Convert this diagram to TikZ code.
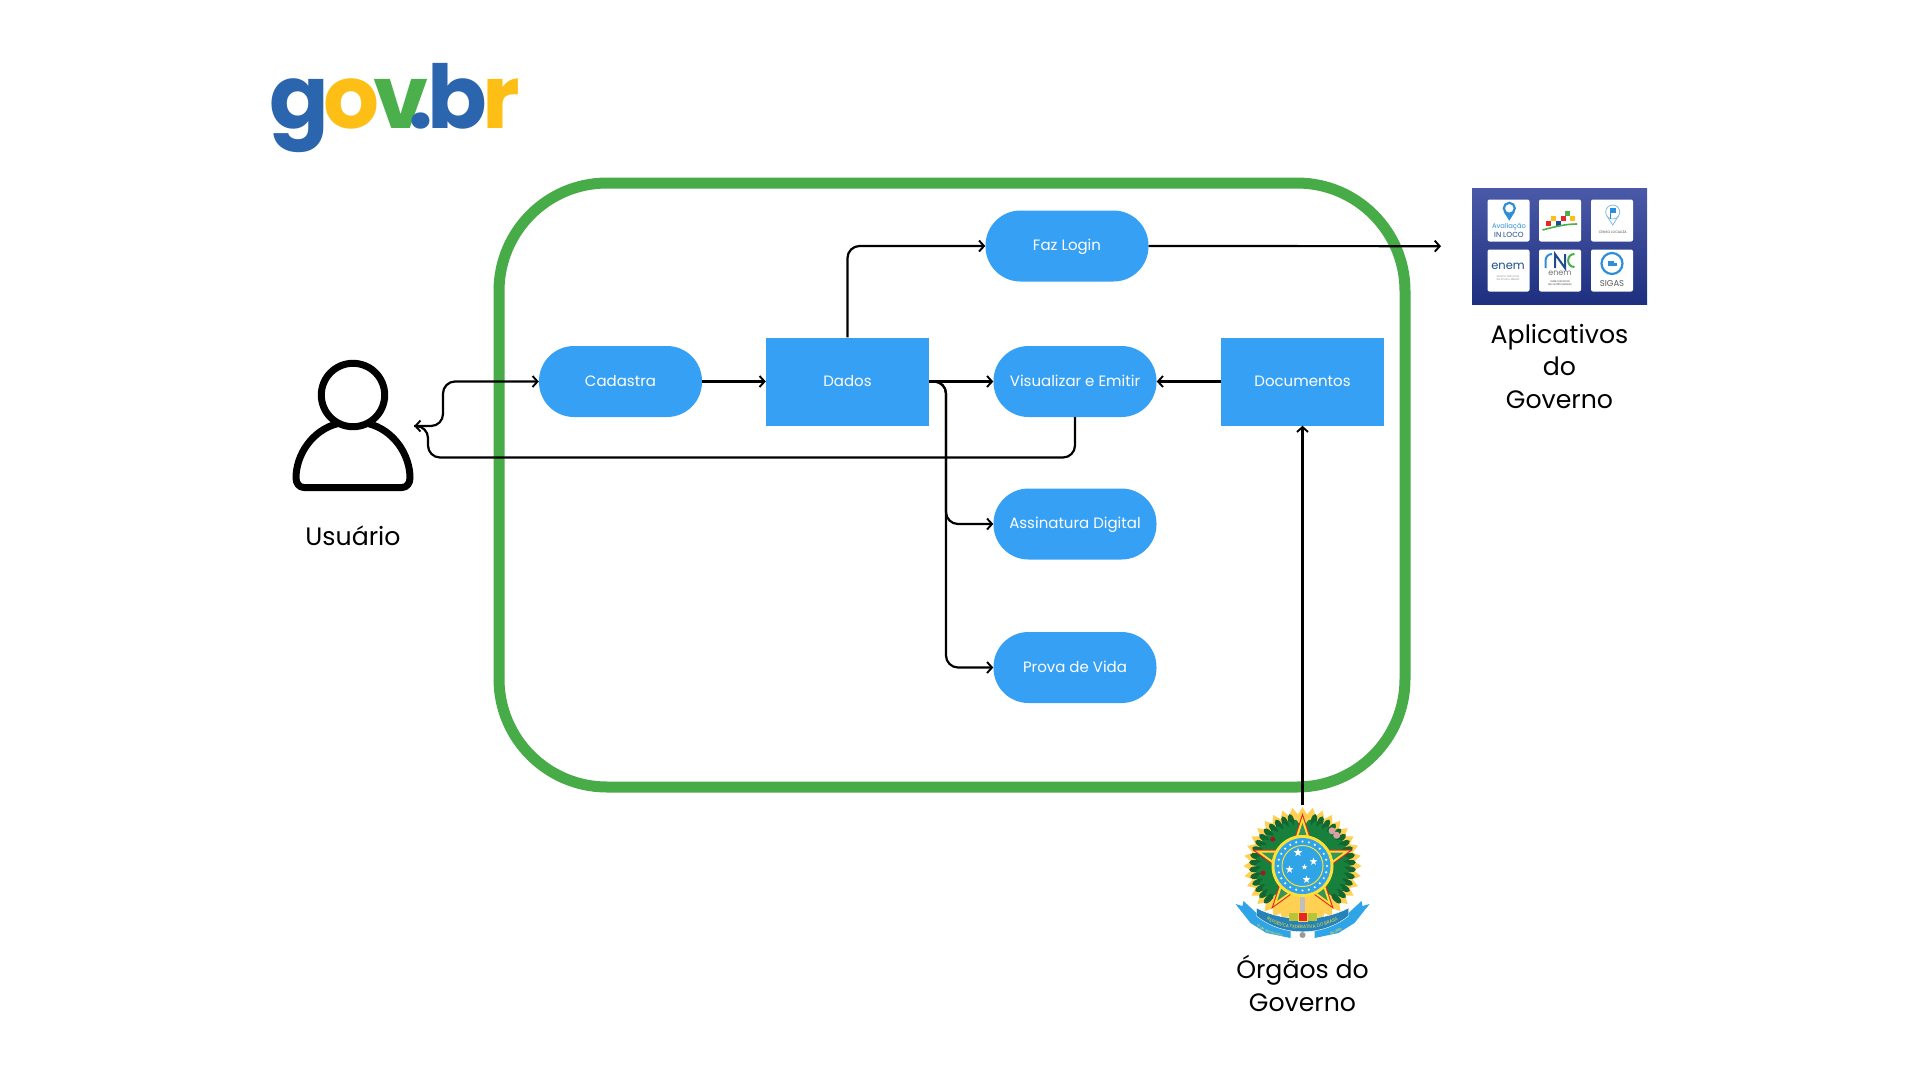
\documentclass[tikz,border=0pt]{standalone}
\usepackage{fontspec}
\setmainfont{Poppins}
\newfontfamily\logofont{Poppins}[UprightFont=* Bold]
\usepackage{tikz}
\usetikzlibrary{arrows.meta,shapes.geometric,decorations.text}

\definecolor{flowblue}{HTML}{35A0F4}
\definecolor{framegreen}{HTML}{47AB48}
\definecolor{logoblue}{HTML}{2A65AE}
\definecolor{logoyellow}{HTML}{FDBF16}
\definecolor{logogreen}{HTML}{4BAF4B}
\definecolor{appdark}{HTML}{1E2F7F}
\definecolor{applight}{HTML}{4A5AA8}
\definecolor{tileblue}{HTML}{2E8FD8}
\definecolor{tilenavy}{HTML}{1F4C8F}
\definecolor{leafgreen}{HTML}{17803C}
\definecolor{sealblue}{HTML}{2FA4E7}
\definecolor{sealyellow}{HTML}{FFE135}
\definecolor{sealred}{HTML}{E5262A}

\tikzset{
    pill/.style={rectangle, fill=flowblue, rounded corners=35pt, minimum width=163pt, minimum height=71pt, inner sep=0pt, text=white, text height=13pt, text depth=3.5pt, font=\fontsize{15}{18}\selectfont},
    box/.style={rectangle, fill=flowblue, minimum width=163pt, minimum height=88pt, inner sep=0pt, text=white, text height=13pt, text depth=3.5pt, font=\fontsize{15}{18}\selectfont},
    link/.style={line width=2.2pt, -{Straight Barb[length=5pt,width=11pt,line width=1.9pt]}, rounded corners=12pt},
    caption/.style={align=center, font=\fontsize{25.2}{32.6}\selectfont, inner sep=0pt},
    logoletter/.style={anchor=base, inner sep=0pt, font=\logofont\fontsize{88}{88}\selectfont},
    tile/.style={fill=white, rounded corners=2pt, minimum size=42pt, inner sep=0pt},
    tiny/.style={inner sep=0pt, align=center, font=\fontsize{#1}{#1}\selectfont},
    whitestar/.style={star, star points=5, star point ratio=2.4, fill=white, inner sep=0pt, minimum size=#1},
    sealstar/.style={star, star points=5, star point ratio=2.618, inner sep=0pt, fill=#1},
}

\begin{document}
\begin{tikzpicture}[x=1pt, y=-1pt]
    \useasboundingbox (0,0) rectangle (1920,1080);

    % Logo
    \node[logoletter, text=logoblue] (logog) at (299.5,128) {g};
    \node[logoletter, text=logoyellow] (logoo) at (351.5,128) {o};
    \node[logoletter, text=logogreen] (logov) at (401,128) {v};
    \node[logoletter, text=logoblue] (logodot) at (420.5,128) {.};
    \node[logoletter, text=logoblue] (logob) at (457.5,128) {b};
    \node[logoletter, text=logoyellow] (logor) at (501,128) {r};

    % Frame of the platform
    \draw[framegreen, line width=11pt, rounded corners=108pt] (499,183) rectangle (1405,787);

    % Flow nodes
    \node[pill] (cadastra) at (620.5,381.5) {Cadastra};
    \node[box] (dados) at (847.5,381.5) {Dados};
    \node[pill] (fazlogin) at (1067,246) {Faz Login};
    \node[pill] (visualizar) at (1075,381.5) {Visualizar e Emitir};
    \node[pill] (assinatura) at (1075,524) {Assinatura Digital};
    \node[pill] (provavida) at (1075,667.5) {Prova de Vida};
    \node[box] (documentos) at (1302.5,381.5) {Documentos};

    % User icon
    \node[minimum width=121pt, minimum height=130pt, inner sep=0pt] (usuario) at (353.5,426) {};
    \draw[line width=7pt, line cap=round, line join=round] (353,395) circle (31.7);
    \draw[line width=7pt, line cap=round, line join=round] (338,423.5) .. controls (312,430) and (296,455) .. (296,478)
        .. controls (296,483) and (299,487.5) .. (304,487.5) -- (402,487.5)
        .. controls (407,487.5) and (410,483) .. (410,478)
        .. controls (410,455) and (394,430) .. (368,423.5);
    \node[caption] (usuariotxt) at (353,535.5) {Usuário};

    % Apps of the government
    \begin{scope}[shift={(1472,188)}]
        \node[anchor=north west, minimum width=175pt, minimum height=116pt, inner sep=0pt, top color=applight, bottom color=appdark] (aplicativos) at (0,0) {};
        \node[tile] (tilea) at (36.5,32.5) {};
        \node[tile] (tileb) at (88,32.5) {};
        \node[tile] (tilec) at (140,32.5) {};
        \node[tile] (tiled) at (36.5,82.5) {};
        \node[tile] (tilee) at (88,82.5) {};
        \node[tile] (tilef) at (140,82.5) {};
        % pin and Avaliacao
        \fill[tileblue] (31.5,23.5) -- (37.3,32.7) -- (43,23.5) -- cycle;
        \draw[tileblue, line width=2.2pt, fill=white] (37.3,20.3) circle (5.5);
        \node[tiny=6.8, text=tileblue] (tileatxt) at (37,39) {Avaliação};
        \node[tiny=7.4, text=tilenavy] (tileatxtb) at (37,47) {IN LOCO};
        % colored squares
        \foreach \px/\py/\pc in {76/35/sealred, 81/30/logoyellow, 86/35/tilenavy, 91/30/sealred, 95.5/25/logogreen, 100.5/30/logoyellow}
            \fill[\pc] (\px-2.5,\py-2.5) rectangle (\px+2.5,\py+2.5);
        \draw[logogreen, line width=1.6pt] (70.5,42) .. controls (85,38) and (95,36) .. (105,36);
        % pin and Censo Localiza
        \draw[tileblue!60, line width=0.8pt] (135,28) -- (140.7,37) -- (146.4,28);
        \draw[tileblue!60, line width=0.8pt] (140.7,24) circle (7);
        \fill[tileblue] (137.5,20) rectangle (144,25);
        \fill[tileblue] (137.5,20) rectangle (139,31);
        \node[tiny=3.4, text=black!70] (tilectxt) at (140.7,44) {CENSO LOCALIZA};
        % enem
        \node[tiny=11.5, text=tilenavy] (tiledtxt) at (36,78) {enem};
        \node[tiny=2.8, text=black!40] (tiledtxtb) at (36,90) {Exame Nacional\\[1pt]de Ensino Médio};
        % rnc
        \draw[tileblue, line width=2pt] (73.5,80) -- (73.5,73) .. controls (73.5,69) and (76,66) .. (80,66);
        \draw[tilenavy, line width=2pt] (83,80) -- (83,66) -- (93,80) -- (93,66);
        \draw[logogreen, line width=2pt] (102.5,66) .. controls (94,66) and (94,79) .. (102.5,79);
        \node[tiny=8, text=black!55] (tileetxt) at (88,85) {enem};
        \node[tiny=2.8, text=black!70] (tileetxtb) at (88,95) {rede nacional\\[0.5pt]de certificadores};
        % sigas
        \draw[tileblue, line width=2.2pt] (140,75.5) circle (10.5);
        \fill[tileblue] (136,73) rectangle (142,78);
        \fill[tileblue] (142,74.5) rectangle (145,78);
        \node[tiny=8.5, text=black!65] (tileftxt) at (140,95.5) {SIGAS};
    \end{scope}
    \node[caption] (aplicativostxt) at (1559.5,366.5) {Aplicativos\\do\\Governo};

    % Emblem of the republic
    \begin{scope}[shift={(1302.5,866)}]
        \node[minimum width=130pt, minimum height=122pt, inner sep=0pt] (brasao) at (0,0) {};
        \node[star, star points=36, star point ratio=1.14, minimum size=118pt, inner sep=0pt, fill=sealyellow!70!orange!80!white] (brasaorays) at (0,0) {};
        % wreath
        \foreach \ang in {100,108,...,226} {
            \fill[leafgreen, rotate=\ang] (38,0) ellipse (9 and 4.5);
            \fill[leafgreen, rotate=180-\ang] (38,0) ellipse (9 and 4.5);
            \fill[leafgreen!80!black, rotate=\ang+4] (47,0) ellipse (6.5 and 3);
            \fill[leafgreen!80!black, rotate=176-\ang] (47,0) ellipse (6.5 and 3);
        }
        \foreach \ang in {170,195,222} \fill[sealred!70!black] (\ang:40) circle (2.5);
        \foreach \ang in {-50,-42} \fill[black!15!pink] (\ang:46) circle (3.5);
        % sword
        \fill[black!25] (-2.5,20) rectangle (2.5,64);
        \fill[black!40] (0,69) circle (3);
        % ribbon
        \fill[sealblue] (-67,38) -- (-60,40) -- (-59,35) -- (-46,47) -- (-12,60) -- (-12,72) -- (-36,67) -- (-52,57) -- cycle;
        \fill[sealblue] (67,38) -- (60,40) -- (59,35) -- (46,47) -- (12,60) -- (12,72) -- (36,67) -- (52,57) -- cycle;
        \path[decorate, decoration={text along path, text align=center, text={|\fontsize{3.5}{3.5}\selectfont\color{sealyellow}|15 de Novembro}}] (-51,56) .. controls (-41,65) and (-31,69) .. (-14,71.5);
        \path[decorate, decoration={text along path, text align=center, text={|\fontsize{3.5}{3.5}\selectfont\color{sealyellow}|de 1889}}] (14,71.5) .. controls (31,69) and (41,65) .. (51,56);
        \fill[sealblue!80!black, draw=white, line width=0.4pt] (-46,42) .. controls (-20,56) and (20,56) .. (46,42) -- (46,50) .. controls (20,71) and (-20,71) .. (-46,50) -- cycle;
        \path[decorate, decoration={text along path, text align=center, text={|\fontsize{4.6}{4.6}\selectfont\color{sealyellow}|REPÚBLICA FEDERATIVA DO BRASIL}}] (-45,47.5) .. controls (-20,68) and (20,68) .. (45,47.5);
        % star layers
        \node[sealstar=sealred, minimum size=106pt] (starred) at (0,0) {};
        \node[sealstar=sealyellow, minimum size=99pt] (staryellow) at (0,0) {};
        \node[sealstar=leafgreen!85!white, minimum size=86pt] (stargreen) at (0,0) {};
        % globe
        \fill[sealyellow] (0,0) circle (31);
        \fill[sealblue] (0,0) circle (28);
        \foreach \ang in {0,15,...,345} \fill[white] (\ang:24.5) circle (1.2);
        \draw[sealyellow, line width=1pt, fill=sealblue] (0,0) circle (20.5);
        \node[whitestar=9pt] (globea) at (-4.5,-13.5) {};
        \node[whitestar=8pt] (globeb) at (11,-4.5) {};
        \node[whitestar=8pt] (globec) at (-13,3.5) {};
        \node[whitestar=6pt] (globed) at (2,1) {};
        \node[whitestar=8pt] (globee) at (4,13.5) {};
        % centre of the sword
        \fill[sealyellow!70!leafgreen] (-14,47) rectangle (14,55);
        \fill[sealyellow] (-5,46) rectangle (5,56);
        \fill[sealred] (-4,47) rectangle (4,55);
    \end{scope}
    \node[caption] (orgaostxt) at (1302.5,983.5) {Órgãos do\\Governo};

    % Connectors
    \coordinate (turnin) at (443,426);
    \coordinate (turnout) at (428,457.5);
    \coordinate (branch) at (946,381.5);
    \draw[link] (usuario.east) -- (turnin) |- (cadastra.west);
    \draw[link] (visualizar.south) |- (turnout) |- (usuario.east);
    \draw[link] (cadastra.east) -- (dados.west);
    \draw[link] (dados.north) |- (fazlogin.west);
    \draw[link, shorten >=31pt] (fazlogin.east) -- (aplicativos.west);
    \draw[link] (dados.east) -- (visualizar.west);
    \draw[link] (dados.east) -- (branch) |- (assinatura.west);
    \draw[link] (dados.east) -- (branch) |- (provavida.west);
    \draw[link] (documentos.west) -- (visualizar.east);
    \draw[link] (brasao.north) -- (documentos.south);
\end{tikzpicture}
\end{document}
